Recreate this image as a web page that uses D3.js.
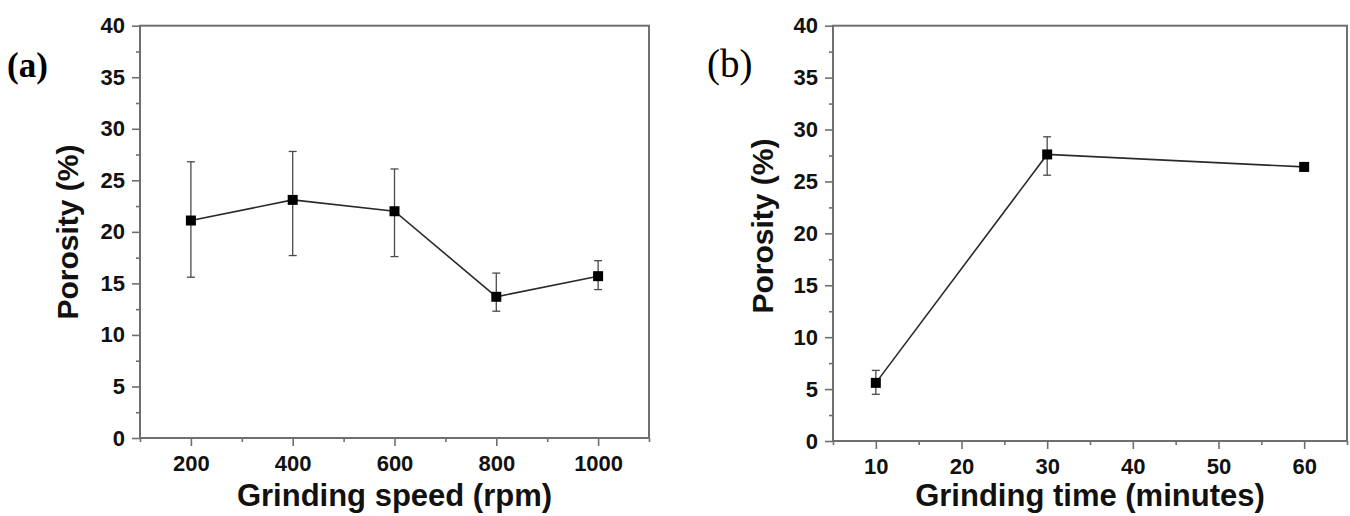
<!DOCTYPE html>
<html>
<head>
<meta charset="utf-8">
<script src="https://cdn.jsdelivr.net/npm/d3@7"></script>
<style>
  html, body { margin: 0; padding: 0; background: #fff; }
  svg { display: block; }
</style>
</head>
<body>
<svg id="chart" width="1350" height="516"></svg>
<script>
// ---- Data ----
const speedX = [200, 400, 600, 800, 1000];
const speedPorosity = [21.1, 23.1, 22.0, 13.7, 15.7];
const speedErrHigh = [26.8, 27.8, 26.1, 16.0, 17.2];
const speedErrLow = [15.6, 17.7, 17.6, 12.3, 14.4];

const timeX = [10, 30, 60];
const timePorosity = [5.6, 27.6, 26.4];
const timeErrHigh = [6.8, 29.3, 26.8];
const timeErrLow = [4.5, 25.6, 26.0];

const yTicks = [0, 5, 10, 15, 20, 25, 30, 35, 40];
const yMinorTicks = [2.5, 7.5, 12.5, 17.5, 22.5, 27.5, 32.5, 37.5];
const speedTicks = [200, 400, 600, 800, 1000];
const speedMinorTicks = [100, 300, 500, 700, 900, 1100];
const timeTicks = [10, 20, 30, 40, 50, 60];
const timeMinorTicks = [5, 15, 25, 35, 45, 55, 65];

const panels = [
  {
    label: "(a)", labelBold: true, labelX: 7, labelY: 77, labelSize: 35,
    xDomain: [100, 1100], xRange: [140, 649], yRange: [438, 25.7],
    x: speedX, y: speedPorosity, hi: speedErrHigh, lo: speedErrLow,
    xTicks: speedTicks, xMinor: speedMinorTicks,
    xTitle: "Grinding speed (rpm)", yTitle: "Porosity (%)",
    yTitleX: 78, yTitleY: 232
  },
  {
    label: "(b)", labelBold: false, labelX: 707, labelY: 77, labelSize: 39,
    xDomain: [5, 65], xRange: [833, 1347], yRange: [441, 25.7],
    x: timeX, y: timePorosity, hi: timeErrHigh, lo: timeErrLow,
    xTicks: timeTicks, xMinor: timeMinorTicks,
    xTitle: "Grinding time (minutes)", yTitle: "Porosity (%)",
    yTitleX: 773, yTitleY: 226
  }
];

const svg = d3.select("#chart");
const sansFont = "'Liberation Sans', Arial, Helvetica, sans-serif";
const serifFont = "'Liberation Serif', 'Times New Roman', serif";
const axisColor = "#6f6f6f";

panels.forEach(p => {
  const xs = d3.scaleLinear().domain(p.xDomain).range(p.xRange);
  const ys = d3.scaleLinear().domain([0, 40]).range(p.yRange);
  const g = svg.append("g");

  // Minor ticks
  const yMinor = g.append("g")
    .attr("transform", `translate(${p.xRange[0]},0)`)
    .call(d3.axisLeft(ys).tickValues(yMinorTicks).tickSize(4).tickFormat(""));
  const xMinor = g.append("g")
    .attr("transform", `translate(0,${p.yRange[0]})`)
    .call(d3.axisBottom(xs).tickValues(p.xMinor).tickSize(4).tickFormat(""));
  [yMinor, xMinor].forEach(a => {
    a.select(".domain").remove();
    a.selectAll(".tick line").attr("stroke", axisColor).attr("stroke-width", 1.6);
  });

  // Major axes
  const yAxis = g.append("g")
    .attr("transform", `translate(${p.xRange[0]},0)`)
    .call(d3.axisLeft(ys).tickValues(yTicks).tickSize(8).tickPadding(7).tickFormat(d3.format("d")));
  const xAxis = g.append("g")
    .attr("transform", `translate(0,${p.yRange[0]})`)
    .call(d3.axisBottom(xs).tickValues(p.xTicks).tickSize(8).tickPadding(9).tickFormat(d3.format("d")));
  [yAxis, xAxis].forEach(a => {
    a.select(".domain").remove();
    a.selectAll(".tick line").attr("stroke", axisColor).attr("stroke-width", 1.6);
    a.selectAll(".tick text")
      .attr("fill", "#111")
      .style("font-family", sansFont)
      .style("font-weight", "bold")
      .style("font-size", "22px");
  });

  // Frame
  g.append("rect")
    .attr("x", p.xRange[0]).attr("y", p.yRange[1])
    .attr("width", p.xRange[1] - p.xRange[0])
    .attr("height", p.yRange[0] - p.yRange[1])
    .attr("fill", "none").attr("stroke", axisColor).attr("stroke-width", 2);

  const pts = p.x.map((xv, i) => ({ x: xv, y: p.y[i], hi: p.hi[i], lo: p.lo[i] }));

  // Error bars
  const eb = g.append("g").attr("stroke", "#4a4a4a").attr("stroke-width", 1.3).attr("fill", "none");
  pts.forEach(d => {
    const cx = xs(d.x);
    eb.append("line").attr("x1", cx).attr("x2", cx).attr("y1", ys(d.hi)).attr("y2", ys(d.lo));
    eb.append("line").attr("x1", cx - 4).attr("x2", cx + 4).attr("y1", ys(d.hi)).attr("y2", ys(d.hi));
    eb.append("line").attr("x1", cx - 4).attr("x2", cx + 4).attr("y1", ys(d.lo)).attr("y2", ys(d.lo));
  });

  // Line
  g.append("path")
    .datum(pts)
    .attr("fill", "none")
    .attr("stroke", "#2a2a2a")
    .attr("stroke-width", 1.6)
    .attr("d", d3.line().x(d => xs(d.x)).y(d => ys(d.y)));

  // Markers
  g.selectAll(null).data(pts).enter().append("rect")
    .attr("x", d => xs(d.x) - 5)
    .attr("y", d => ys(d.y) - 5)
    .attr("width", 10).attr("height", 10)
    .attr("fill", "#000");

  // Axis titles
  g.append("text")
    .attr("x", (p.xRange[0] + p.xRange[1]) / 2)
    .attr("y", 506)
    .attr("text-anchor", "middle")
    .attr("fill", "#111")
    .style("font-family", sansFont)
    .style("font-weight", "bold")
    .style("font-size", "31px")
    .text(p.xTitle);

  g.append("text")
    .attr("transform", `translate(${p.yTitleX},${p.yTitleY}) rotate(-90)`)
    .attr("text-anchor", "middle")
    .attr("fill", "#111")
    .style("font-family", sansFont)
    .style("font-weight", "bold")
    .style("font-size", "30px")
    .text(p.yTitle);

  // Panel label
  g.append("text")
    .attr("x", p.labelX).attr("y", p.labelY)
    .attr("fill", "#000")
    .style("font-family", serifFont)
    .style("font-weight", p.labelBold ? "bold" : "normal")
    .style("font-size", p.labelSize + "px")
    .text(p.label);
});
</script>
</body>
</html>
